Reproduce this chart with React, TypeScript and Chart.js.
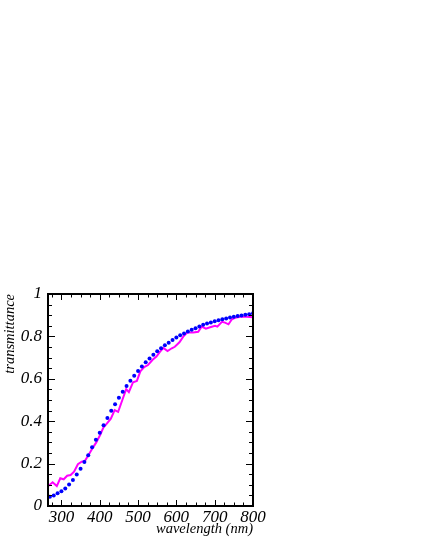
import React, { useEffect, useRef } from "react";
import { Chart, registerables } from "chart.js";

Chart.register(...registerables);

// Blue dotted series (model), wavelength in nm
const blueWavelengths = [
  270, 280, 290, 300, 310, 320, 330, 340, 350, 360, 370, 380, 390, 400,
  410, 420, 430, 440, 450, 460, 470, 480, 490, 500, 510, 520, 530, 540,
  550, 560, 570, 580, 590, 600, 610, 620, 630, 640, 650, 660, 670, 680,
  690, 700, 710, 720, 730, 740, 750, 760, 770, 780, 790, 800,
];
const blueTransmittance = [
  0.044, 0.05, 0.06, 0.069, 0.083, 0.101, 0.123, 0.148, 0.176, 0.208, 0.239, 0.277, 0.312, 0.346,
  0.381, 0.415, 0.449, 0.48, 0.511, 0.539, 0.566, 0.591, 0.614, 0.637, 0.658, 0.678, 0.696, 0.714,
  0.73, 0.744, 0.758, 0.77, 0.783, 0.795, 0.805, 0.814, 0.823, 0.831, 0.839, 0.847, 0.855, 0.861,
  0.866, 0.871, 0.876, 0.881, 0.885, 0.889, 0.893, 0.896, 0.899, 0.902, 0.905, 0.909,
];

// Magenta measured series
const magentaWavelengths = [
  265, 277, 288, 297, 306, 315, 324, 333, 343, 353, 361, 372, 381, 391, 401,
  409, 419, 429, 439, 448, 459, 469, 476, 487, 497, 506, 516, 526, 538, 548,
  557, 566, 577, 588, 596, 608, 618, 628, 644, 657, 666, 677, 688, 701, 707,
  719, 727, 736, 745, 753, 767, 784, 800,
];
const magentaTransmittance = [
  0.093, 0.112, 0.094, 0.131, 0.126, 0.143, 0.146, 0.162, 0.197, 0.209, 0.212, 0.244, 0.272, 0.3, 0.335,
  0.368, 0.39, 0.412, 0.452, 0.444, 0.5, 0.551, 0.537, 0.584, 0.59, 0.635, 0.655, 0.665, 0.69, 0.705,
  0.727, 0.746, 0.731, 0.744, 0.751, 0.772, 0.799, 0.818, 0.818, 0.822, 0.846, 0.836, 0.843, 0.85, 0.846,
  0.869, 0.865, 0.857, 0.881, 0.888, 0.893, 0.893, 0.89,
];

const xMin = 265;
const xMax = 800;
const xMajorTicks = [300, 400, 500, 600, 700, 800];
const xMinorStep = 25;
const yMajorTicks = [0, 0.2, 0.4, 0.6, 0.8, 1];
const yTickLabels = ["0", "0.2", "0.4", "0.6", "0.8", "1"];
const yMinorStep = 0.05;

const serif = "'Liberation Serif', 'Times New Roman', serif";

const framePlugin = {
  id: "frameTicks",
  afterDatasetsDraw(chart: any) {
    const { ctx, chartArea: a, scales } = chart;
    const x = scales.x;
    const y = scales.y;
    ctx.save();
    ctx.strokeStyle = "#000";
    ctx.lineWidth = 1;
    ctx.beginPath();
    const startX = Math.ceil(xMin / xMinorStep) * xMinorStep;
    for (let v = startX; v <= xMax + 1e-6; v += xMinorStep) {
      const major = xMajorTicks.includes(v);
      const len = major ? 6 : 3.5;
      const px = Math.round(x.getPixelForValue(v)) + 0.5;
      ctx.moveTo(px, a.bottom);
      ctx.lineTo(px, a.bottom - len);
      ctx.moveTo(px, a.top);
      ctx.lineTo(px, a.top + len);
    }
    for (let i = 0; i <= Math.round(1 / yMinorStep); i++) {
      const v = i * yMinorStep;
      const major = yMajorTicks.some((t) => Math.abs(t - v) < 1e-6);
      const len = major ? 7 : 4;
      const py = Math.round(y.getPixelForValue(v)) + 0.5;
      ctx.moveTo(a.left, py);
      ctx.lineTo(a.left + len, py);
      ctx.moveTo(a.right, py);
      ctx.lineTo(a.right - len, py);
    }
    ctx.stroke();
    ctx.lineWidth = 2;
    ctx.strokeRect(a.left, a.top, a.right - a.left, a.bottom - a.top);
    ctx.restore();
  },
};

export default function App() {
  const canvasRef = useRef<HTMLCanvasElement | null>(null);

  useEffect(() => {
    let chart: any = null;
    let cancelled = false;
    const build = () => {
      if (cancelled || !canvasRef.current) return;
      chart = new Chart(canvasRef.current, {
        type: "scatter",
        data: {
          datasets: [
            {
              label: "model",
              data: blueWavelengths.map((w, i) => ({ x: w, y: blueTransmittance[i] })),
              showLine: false,
              pointRadius: 2,
              pointBorderWidth: 0,
              pointBackgroundColor: "#0000ff",
              pointBorderColor: "#0000ff",
            },
            {
              label: "measured",
              data: magentaWavelengths.map((w, i) => ({ x: w, y: magentaTransmittance[i] })),
              showLine: true,
              borderColor: "#ff00ff",
              borderWidth: 2,
              pointRadius: 0,
              tension: 0,
            },
          ],
        },
        options: {
          animation: false,
          responsive: false,
          maintainAspectRatio: false,
          layout: { padding: { top: 294, left: 0, right: 168, bottom: 0 } },
          plugins: {
            legend: { display: false },
            tooltip: { enabled: false },
          },
          scales: {
            x: {
              type: "linear",
              min: xMin,
              max: xMax,
              afterBuildTicks: (scale: any) => {
                scale.ticks = xMajorTicks.map((v) => ({ value: v }));
              },
              afterFit: (scale: any) => {
                scale.height = 39;
              },
              grid: { display: false, drawTicks: false },
              border: { display: false },
              ticks: {
                autoSkip: false,
                maxRotation: 0,
                minRotation: 0,
                padding: 1,
                color: "#000",
                callback: (v: any) => String(v),
                font: { family: serif, style: "italic", size: 17 },
              },
              title: {
                display: true,
                text: "wavelength (nm)",
                align: "end",
                color: "#000",
                font: { family: serif, style: "italic", size: 14.5 },
                padding: { top: 0, bottom: 7.5 },
              },
            },
            y: {
              type: "linear",
              min: 0,
              max: 1,
              afterBuildTicks: (scale: any) => {
                scale.ticks = yMajorTicks.map((v) => ({ value: v }));
              },
              afterFit: (scale: any) => {
                scale.width = 48;
              },
              grid: { display: false, drawTicks: false },
              border: { display: false },
              ticks: {
                padding: 6,
                color: "#000",
                callback: (_v: any, i: number) => yTickLabels[i],
                font: { family: serif, style: "italic", size: 17 },
              },
              title: {
                display: true,
                text: "transmittance",
                align: "end",
                color: "#000",
                font: { family: serif, style: "italic", size: 14.5 },
                padding: { top: 1.5, bottom: 0 },
              },
            },
          },
        },
        plugins: [framePlugin],
      });
    };
    const fonts: any = (document as any).fonts;
    if (fonts && fonts.load) {
      Promise.all([
        fonts.load("italic 17px 'Liberation Serif'"),
        fonts.load("italic 14.5px 'Liberation Serif'"),
      ])
        .catch(() => null)
        .then(build);
    } else {
      build();
    }
    return () => {
      cancelled = true;
      if (chart) chart.destroy();
    };
  }, []);

  return (
    <div style={{ position: "absolute", left: 0, top: 0, width: 421, height: 545 }}>
      <canvas ref={canvasRef} width={421} height={545} style={{ width: 421, height: 545 }} />
    </div>
  );
}
